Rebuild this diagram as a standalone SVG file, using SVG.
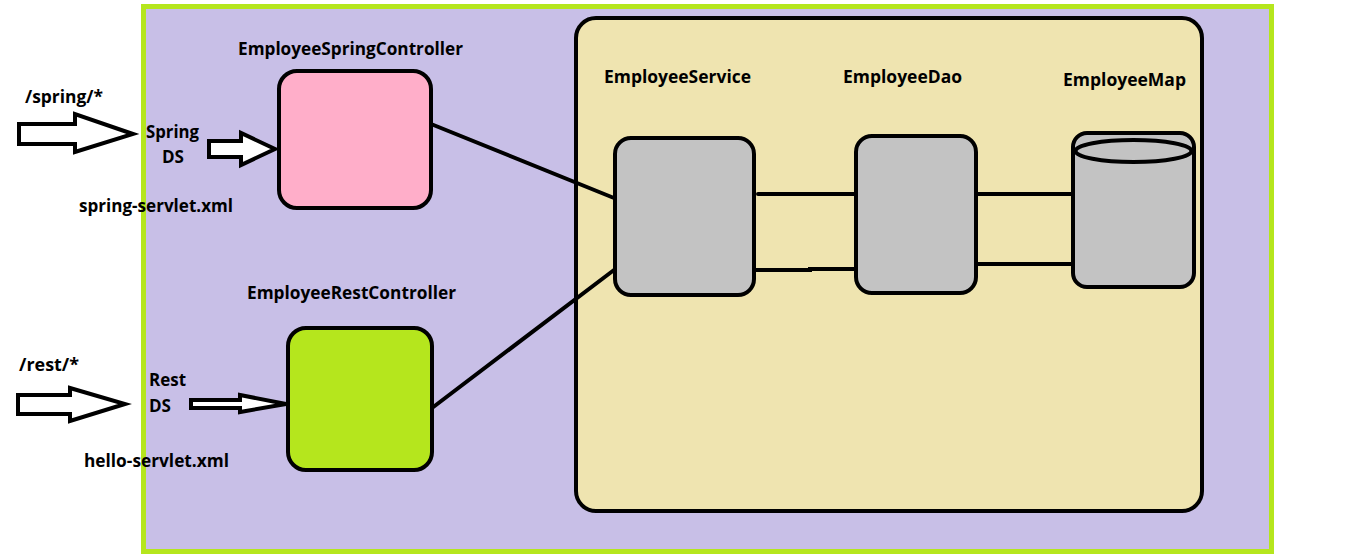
<svg xmlns="http://www.w3.org/2000/svg" width="1360" height="558" viewBox="0 0 1360 558">
<style>
.t{font-family:"Open Sans","Liberation Sans",sans-serif;font-weight:bold;font-size:17px;fill:#000}
.box{stroke:#000;stroke-width:4}
.ln{stroke:#000;stroke-width:4;fill:none;stroke-linecap:round}
.arr{fill:#fff;stroke:#000;stroke-width:4;stroke-linejoin:miter}
</style>
<rect width="1360" height="558" fill="#fff"/>
<g id="container">
<rect x="143.5" y="6.5" width="1128" height="545" fill="#c8bfe7" stroke="#b5e61d" stroke-width="5"/>
</g>
<g id="service-layer">
<rect class="box" x="576" y="18" width="626" height="493" rx="20" fill="#efe4b0"/>
</g>
<g id="connectors">
<line class="ln" x1="431" y1="124" x2="614" y2="198"/>
<line class="ln" x1="432" y1="408" x2="614" y2="270"/>
<line class="ln" x1="758" y1="194" x2="860" y2="194"/>
<polyline class="ln" points="754,270 810,270 810,269 860,269"/>
<line class="ln" x1="976" y1="194" x2="1077" y2="194"/>
<line class="ln" x1="976" y1="264" x2="1072" y2="264"/>
<polygon class="arr" points="19,124 75,124 75,114 133,134 75,152 75,144 19,144"/>
<polygon class="arr" points="209,141 241,141 241,133 275,149 241,165 241,157 209,157"/>
<polygon class="arr" points="18,395 70,395 70,388 125,404 70,421 70,414 18,414"/>
<polygon class="arr" points="191,400 240,400 240,395 286,404 240,412 240,408 191,408"/>
</g>
<g id="spring-controller">
<rect class="box" x="279" y="71" width="152" height="137" rx="18" fill="#ffaec9"/>
<text class="t" x="238" y="55" textLength="225" lengthAdjust="spacingAndGlyphs">EmployeeSpringController</text>
</g>
<g id="rest-controller">
<rect class="box" x="288" y="328" width="144" height="142" rx="18" fill="#b5e61d"/>
<text class="t" x="247" y="299" textLength="209" lengthAdjust="spacingAndGlyphs">EmployeeRestController</text>
</g>
<g id="employee-service">
<rect class="box" x="615" y="138" width="139" height="157" rx="16" fill="#c3c3c3"/>
<text class="t" x="604" y="83" textLength="147" lengthAdjust="spacingAndGlyphs">EmployeeService</text>
</g>
<g id="employee-dao">
<rect class="box" x="856" y="136" width="120" height="157" rx="16" fill="#c3c3c3"/>
<text class="t" x="843" y="83" textLength="119" lengthAdjust="spacingAndGlyphs">EmployeeDao</text>
</g>
<g id="employee-map">
<rect class="box" x="1073" y="133" width="121" height="154" rx="14" fill="#c3c3c3"/>
<ellipse cx="1133.5" cy="151" rx="58" ry="11" fill="#c3c3c3" stroke="#000" stroke-width="4"/>
<text class="t" x="1063" y="86" textLength="123" lengthAdjust="spacingAndGlyphs">EmployeeMap</text>
</g>
<g id="spring-entry">
<text class="t" x="25" y="103" textLength="78" lengthAdjust="spacingAndGlyphs">/spring/*</text>
<text class="t" x="146" y="138" textLength="53" lengthAdjust="spacingAndGlyphs">Spring</text>
<text class="t" x="162" y="163" textLength="22" lengthAdjust="spacingAndGlyphs">DS</text>
<text class="t" x="79" y="212" textLength="154" lengthAdjust="spacingAndGlyphs">spring-servlet.xml</text>
</g>
<g id="rest-entry">
<text class="t" x="19" y="371" textLength="60" lengthAdjust="spacingAndGlyphs">/rest/*</text>
<text class="t" x="149" y="386" textLength="37" lengthAdjust="spacingAndGlyphs">Rest</text>
<text class="t" x="149" y="412" textLength="22" lengthAdjust="spacingAndGlyphs">DS</text>
<text class="t" x="84" y="467" textLength="145" lengthAdjust="spacingAndGlyphs">hello-servlet.xml</text>
</g>
</svg>
